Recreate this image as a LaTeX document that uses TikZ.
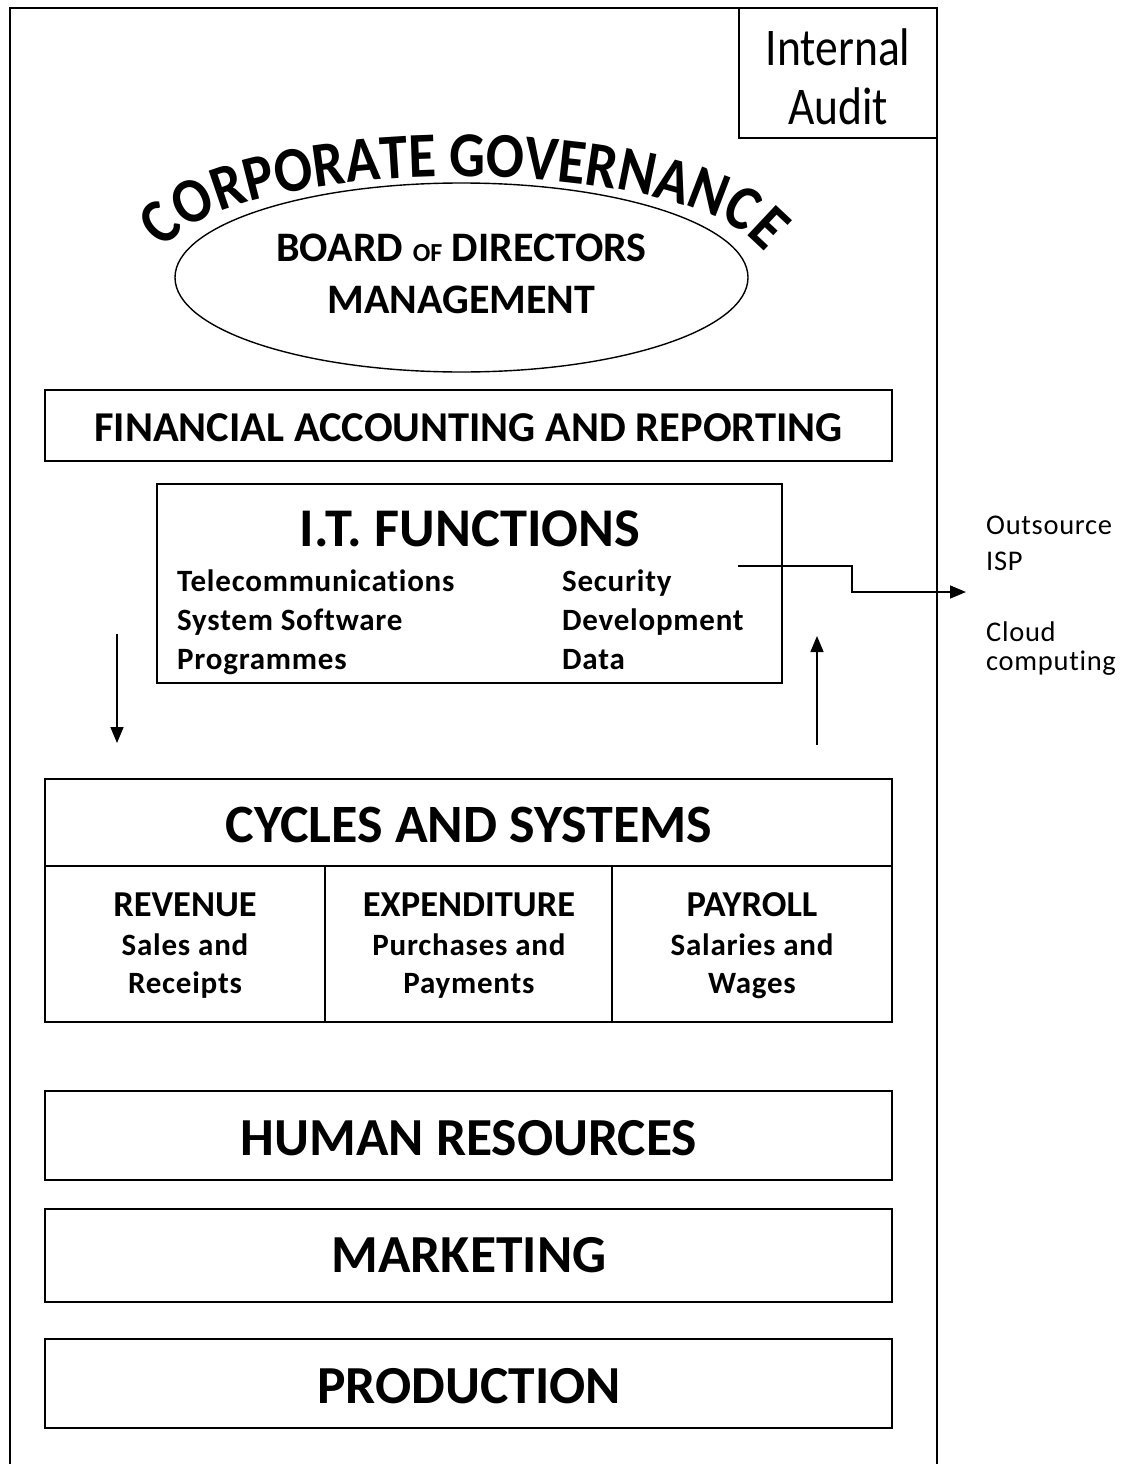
\documentclass[tikz,border=0pt]{standalone}
\usepackage{fontspec}
\setmainfont{Carlito}[Ligatures=NoCommon]
\newfontfamily\lsfont{Carlito}[LetterSpace=2.5,Ligatures=NoCommon]
\newfontfamily\cgfam{Carlito}[FakeStretch=0.88]
\usetikzlibrary{arrows.meta,decorations.text,shapes.geometric}
\newcommand\fs[1]{\fontsize{#1}{#1}\selectfont}
\newcommand\cgfont{\cgfam\fontsize{64}{64}\selectfont\bfseries}
\begin{document}
\begin{tikzpicture}[x=1pt,y=-1pt,
  bx/.style={draw, line width=1.6pt, inner sep=0, rectangle},
  txt/.style={inner sep=0, anchor=base, font=\bfseries},
  ltxt/.style={inner sep=0, anchor=base west, font=\bfseries},
  rtxt/.style={inner sep=0, anchor=base west},
  arr/.style={line width=1.6pt, -{Triangle[length=16pt,width=13pt]}}]
\useasboundingbox (0,0) rectangle (1130,1464);
% outer frame
\draw[line width=1.4pt] (10,1470) -- (10,8) -- (937,8) -- (937,1470);
% internal audit
\node[bx, line width=1.4pt, minimum width=198pt, minimum height=130pt] (ia) at (838,73) {};
\node[txt, font=\fs{53}] (ia1) at (838,66) {\scalebox{0.86}[1]{Internal}};
\node[txt, font=\fs{53}] (ia2) at (838,124) {\scalebox{0.86}[1]{Audit}};
% governance
\path[decorate, decoration={text along path, text align=center,
  text={|\cgfont|CORPORATE GOVERNANCE}}]
  (160,255) .. controls (220,150) and (705,150) .. (768,258);
\node[draw, ellipse, line width=1.4pt, minimum width=573pt, minimum height=189pt, inner sep=0] (bod) at (461.5,277.5) {};
\node[txt, font=\fs{42}\bfseries] (bod1) at (461.5,261) {BOARD {\fs{26}OF} DIRECTORS};
\node[txt, font=\fs{42}\bfseries] (bod2) at (461.5,313) {MANAGEMENT};
% financial
\node[bx, minimum width=847pt, minimum height=71pt] (far) at (468.5,425.5) {};
\node[txt, font=\fs{42.5}\bfseries] (fart) at (468.5,441) {FINANCIAL ACCOUNTING AND REPORTING};
% IT functions
\node[bx, minimum width=625pt, minimum height=199pt] (it) at (469.5,583.5) {};
\node[txt, font=\fs{54.5}\bfseries] (itt) at (470,546) {I.T. FUNCTIONS};
\node[ltxt, font=\lsfont\fs{31}\bfseries] (it1) at (177,591) {Telecommunications};
\node[ltxt, font=\lsfont\fs{31}\bfseries] (it2) at (177,630) {System Software};
\node[ltxt, font=\lsfont\fs{31}\bfseries] (it3) at (177,669) {Programmes};
\node[ltxt, font=\lsfont\fs{31}\bfseries] (it4) at (562,591) {Security};
\node[ltxt, font=\lsfont\fs{31}\bfseries] (it5) at (562,630) {Development};
\node[ltxt, font=\lsfont\fs{31}\bfseries] (it6) at (562,669) {Data};
% outsource
\node[rtxt, font=\lsfont\fs{28.5}] (os1) at (986,534) {Outsource};
\node[rtxt, font=\lsfont\fs{28.5}] (os2) at (986,570) {ISP};
\node[rtxt, font=\lsfont\fs{28.5}] (os3) at (986,641) {Cloud};
\node[rtxt, font=\lsfont\fs{28.5}] (os4) at (986,670) {computing};
\coordinate (itout) at (738,566);
\coordinate (ext) at (966,592);
\draw[arr] (itout) -- (852,566) -- (852,592) -- (ext);
% vertical arrows
\coordinate (d1) at (117,634);
\coordinate (d2) at (117,743);
\draw[arr] (d1) -- (d2);
\coordinate (u1) at (817,745);
\coordinate (u2) at (817,636);
\draw[arr] (u1) -- (u2);
% cycles
\node[bx, minimum width=847pt, minimum height=243pt] (cyc) at (468.5,900.5) {};
\draw[line width=1.6pt] (45,866) -- (892,866);
\draw[line width=1.6pt] (325,866) -- (325,1022);
\draw[line width=1.6pt] (612,866) -- (612,1022);
\node[txt, font=\fs{54}\bfseries] (cyct) at (469,842) {CYCLES AND SYSTEMS};
\node[txt, font=\fs{36.5}\bfseries] (rv) at (185,916) {REVENUE};
\node[txt, font=\lsfont\fs{31}\bfseries] (rv1) at (185,955) {Sales and};
\node[txt, font=\lsfont\fs{31}\bfseries] (rv2) at (185,993) {Receipts};
\node[txt, font=\fs{36.5}\bfseries] (ex) at (469,916) {EXPENDITURE};
\node[txt, font=\lsfont\fs{31}\bfseries] (ex1) at (469,955) {Purchases and};
\node[txt, font=\lsfont\fs{31}\bfseries] (ex2) at (469,993) {Payments};
\node[txt, font=\fs{36.5}\bfseries] (pr) at (752,916) {PAYROLL};
\node[txt, font=\lsfont\fs{31}\bfseries] (pr1) at (752,955) {Salaries and};
\node[txt, font=\lsfont\fs{31}\bfseries] (pr2) at (752,993) {Wages};
% bottom boxes
\node[bx, minimum width=847pt, minimum height=89pt] (hr) at (468.5,1135.5) {};
\node[txt, font=\fs{53.5}\bfseries] (hrt) at (469,1155) {HUMAN RESOURCES};
\node[bx, minimum width=847pt, minimum height=93pt] (mk) at (468.5,1255.5) {};
\node[txt, font=\fs{53.5}\bfseries] (mkt) at (469,1272) {MARKETING};
\node[bx, minimum width=847pt, minimum height=89pt] (pd) at (468.5,1383.5) {};
\node[txt, font=\fs{53.5}\bfseries] (pdt) at (469,1403) {PRODUCTION};
\end{tikzpicture}
\end{document}
